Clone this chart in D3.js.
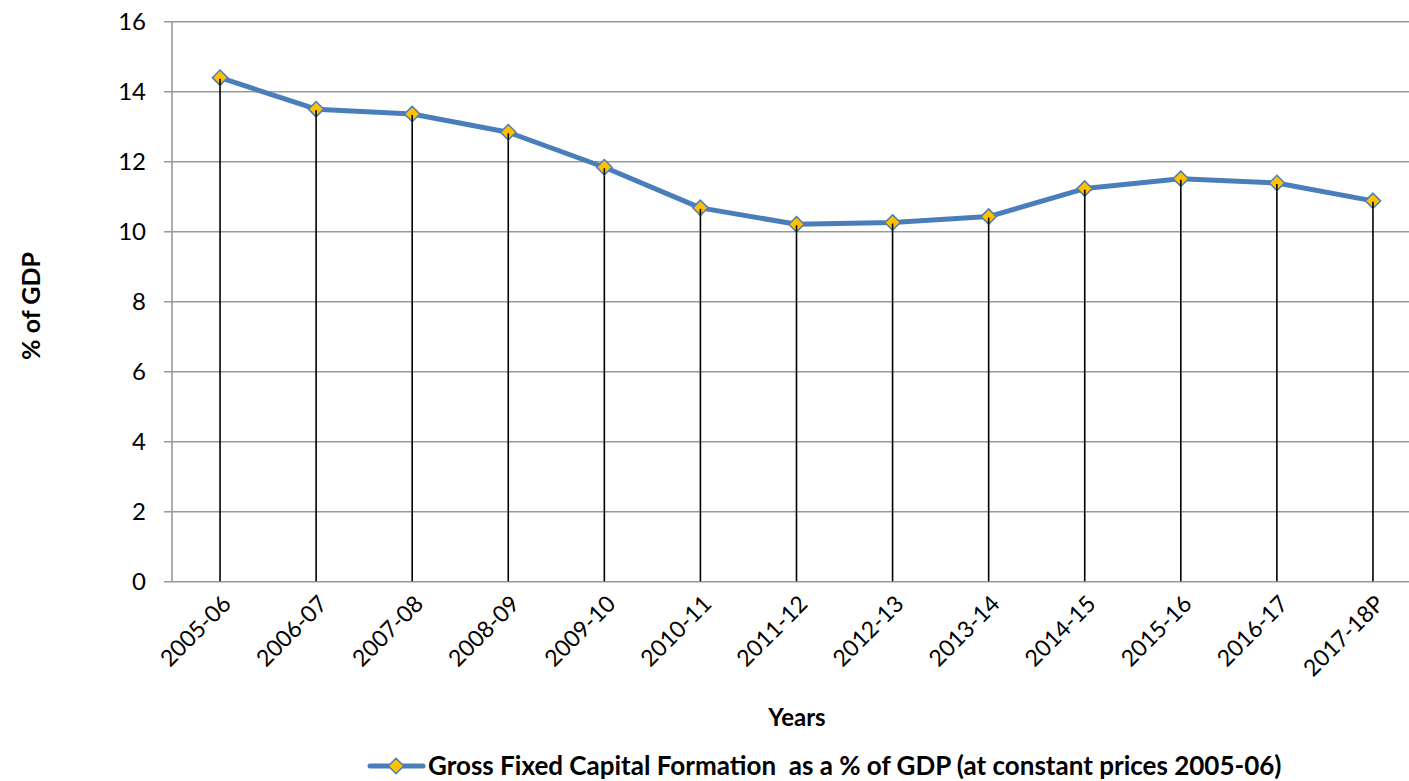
<!DOCTYPE html>
<html>
<head>
<meta charset="utf-8">
<script src="https://cdn.jsdelivr.net/npm/d3@7"></script>
<style>
  html, body { margin: 0; padding: 0; background: #fff; }
  svg { display: block; font-family: "Lato", "Open Sans", "Liberation Sans", sans-serif; }
</style>
</head>
<body>
<svg id="chart" width="1409" height="781"></svg>
<script>
// Fiscal years on the category axis
const years = ["2005-06", "2006-07", "2007-08", "2008-09", "2009-10", "2010-11",
  "2011-12", "2012-13", "2013-14", "2014-15", "2015-16", "2016-17", "2017-18P"];
// Gross fixed capital formation, % of GDP (constant 2005-06 prices)
const gfcfShare = [14.39, 13.49, 13.35, 12.83, 11.83, 10.67, 10.2, 10.25, 10.42, 11.22, 11.5, 11.38, 10.87];
// Value axis ticks
const yTicks = [0, 2, 4, 6, 8, 10, 12, 14, 16];
const seriesName = "Gross Fixed Capital Formation  as a % of GDP (at constant prices 2005-06)";

const svg = d3.select("#chart");
const W = 1409;
const plot = { left: 172, right: 1421, top: 21.3, bottom: 581.3 };

const x = d3.scalePoint().domain(years).range([plot.left, plot.right]).padding(0.5);
const y = d3.scaleLinear().domain([0, 16]).range([plot.bottom, plot.top]);

// Horizontal gridlines and y-axis
const yAxis = d3.axisLeft(y).tickValues(yTicks).tickSize(0).tickPadding(0);
const gy = svg.append("g").attr("transform", `translate(${plot.left},0)`);
gy.call(yAxis);
gy.select(".domain").remove();
gy.selectAll(".tick line").remove();
gy.selectAll(".tick").append("line")
  .attr("x1", -8).attr("x2", W - plot.left)
  .attr("stroke", "#999").attr("stroke-width", 1.6);
gy.selectAll(".tick text")
  .attr("x", -26).attr("dy", "0.35em")
  .attr("fill", "#000").attr("font-size", 24).attr("text-anchor", "end")
  .style("font-family", "Lato, 'Open Sans', sans-serif");

svg.append("line")
  .attr("x1", plot.left).attr("x2", plot.left)
  .attr("y1", plot.top).attr("y2", plot.bottom)
  .attr("stroke", "#999").attr("stroke-width", 1.6);

// Category axis labels
const xAxis = d3.axisBottom(x).tickSize(0).tickPadding(0);
const gx = svg.append("g").attr("transform", `translate(0,${plot.bottom})`);
gx.call(xAxis);
gx.select(".domain").remove();
gx.selectAll(".tick text")
  .attr("fill", "#000").attr("font-size", 23)
  .style("font-family", "Lato, 'Open Sans', sans-serif")
  .attr("text-anchor", "end")
  .attr("x", 0).attr("y", 0).attr("dy", 0)
  .attr("transform", "translate(12,24) rotate(-45)");

// Drop lines from each point to the baseline
const pts = years.map((yr, i) => ({ yr, v: gfcfShare[i] }));
svg.append("g").selectAll("line").data(pts).join("line")
  .attr("x1", d => x(d.yr)).attr("x2", d => x(d.yr))
  .attr("y1", d => y(d.v)).attr("y2", y(0))
  .attr("stroke", "#000").attr("stroke-width", 1.6);

// Series line
svg.append("path").datum(pts)
  .attr("fill", "none").attr("stroke", "#4A7EBB").attr("stroke-width", 5)
  .attr("stroke-linejoin", "round")
  .attr("d", d3.line().x(d => x(d.yr)).y(d => y(d.v)));

// Diamond markers
const diamond = d3.symbol().type(d3.symbolDiamond2).size(150);
svg.append("g").selectAll("path").data(pts).join("path")
  .attr("transform", d => `translate(${x(d.yr)},${y(d.v)})`)
  .attr("d", diamond)
  .attr("fill", "#FFC000").attr("stroke", "#4A7EBB").attr("stroke-width", 1.5);

// Drop line tips overlap the marker centres
svg.append("g").selectAll("line").data(pts).join("line")
  .attr("x1", d => x(d.yr)).attr("x2", d => x(d.yr))
  .attr("y1", d => y(d.v) + 1).attr("y2", d => y(d.v) + 8)
  .attr("stroke", "#000").attr("stroke-width", 1.6);

// Axis titles
svg.append("text")
  .attr("x", 797).attr("y", 726)
  .attr("text-anchor", "middle").attr("font-size", 24).attr("font-weight", "bold")
  .text("Years");

svg.append("text")
  .attr("transform", "translate(40,306) rotate(-90)")
  .attr("text-anchor", "middle").attr("font-size", 25).attr("font-weight", "bold")
  .text("% of GDP");

// Legend
const lg = svg.append("g").attr("transform", "translate(0,766)");
lg.append("line").attr("x1", 370).attr("x2", 423).attr("y1", 0).attr("y2", 0)
  .attr("stroke", "#4A7EBB").attr("stroke-width", 5).attr("stroke-linecap", "round");
lg.append("path").attr("transform", "translate(396,0)").attr("d", diamond)
  .attr("fill", "#FFC000").attr("stroke", "#4A7EBB").attr("stroke-width", 1.5);
lg.append("text").attr("x", 428).attr("y", 0).attr("dy", "0.35em")
  .attr("font-size", 26).attr("font-weight", "bold")
  .style("white-space", "pre")
  .text(seriesName);
</script>
</body>
</html>
